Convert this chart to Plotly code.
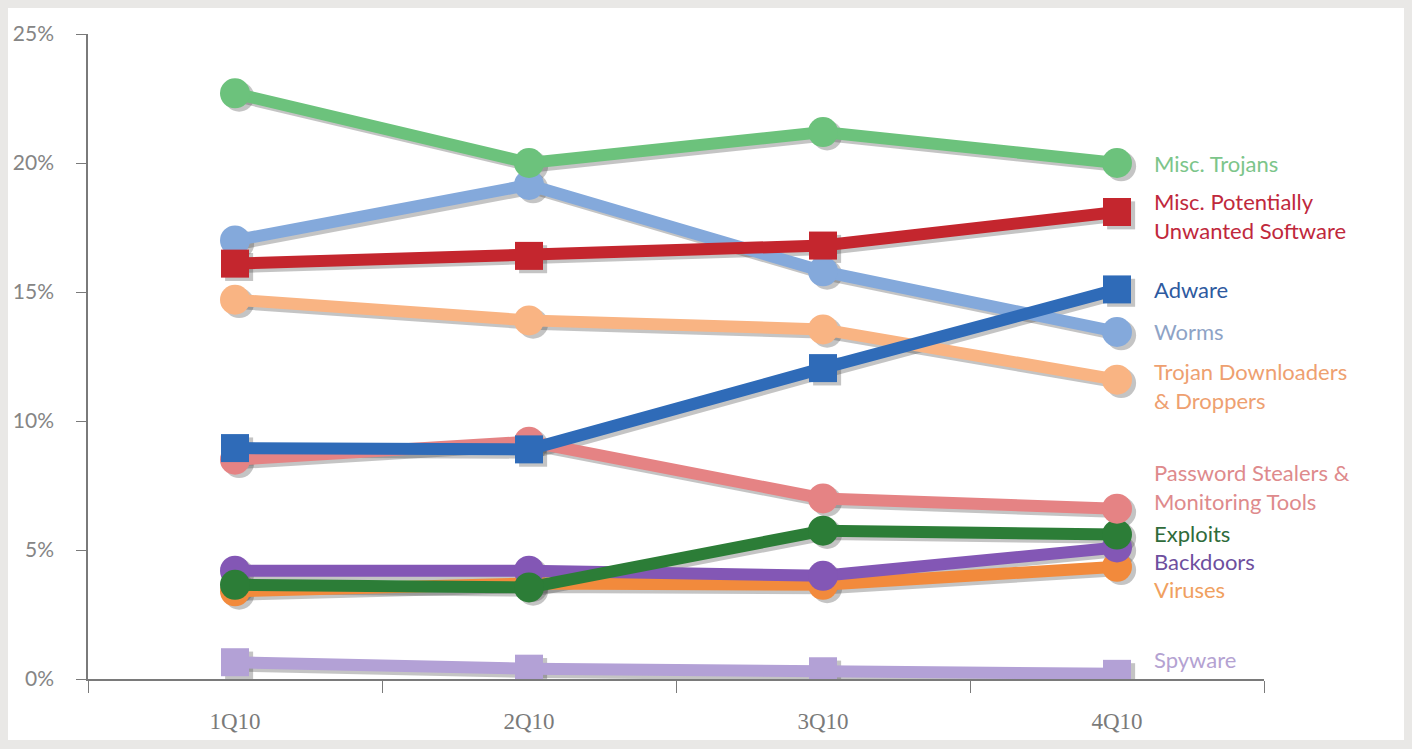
import plotly.graph_objects as go

# Quarterly prevalence of malware categories (% of all infections)
quarters = ["1Q10", "2Q10", "3Q10", "4Q10"]

misc_trojans = [22.7, 20.0, 21.2, 20.0]
misc_pus = [16.1, 16.4, 16.8, 18.1]
adware = [8.95, 8.9, 12.05, 15.1]
worms = [17.0, 19.15, 15.8, 13.45]
trojan_downloaders = [14.7, 13.9, 13.55, 11.6]
password_stealers = [8.5, 9.2, 7.0, 6.6]
exploits = [3.65, 3.55, 5.75, 5.6]
backdoors = [4.2, 4.2, 4.0, 5.1]
viruses = [3.4, 3.7, 3.65, 4.35]
spyware = [0.65, 0.4, 0.3, 0.2]

y_ticks = [0, 5, 10, 15, 20, 25]
y_tick_labels = [f"{v}%" for v in y_ticks]

# name, values, line colour, marker symbol, label text colour (bottom to top drawing order)
series = [
    ("Spyware", spyware, "#b3a1d6", "square", "#b4a2d2"),
    ("Viruses", viruses, "#f28a3c", "circle", "#f0a060"),
    ("Backdoors", backdoors, "#8357b5", "circle", "#6e4f9e"),
    ("Exploits", exploits, "#2c7d37", "circle", "#2f6b3a"),
    ("Password Stealers &<br>Monitoring Tools", password_stealers, "#e58384", "circle", "#de8a8c"),
    ("Trojan Downloaders<br>& Droppers", trojan_downloaders, "#f9b483", "circle", "#eea070"),
    ("Worms", worms, "#84a9db", "circle", "#8ea3c6"),
    ("Adware", adware, "#2f6bb8", "square", "#2e5a9f"),
    ("Misc. Potentially<br>Unwanted Software", misc_pus, "#c4262e", "square", "#c0283c"),
    ("Misc. Trojans", misc_trojans, "#6cc27c", "circle", "#7cc58a"),
]

# vertical anchor (in axis units) of each right-hand label
label_y = {
    "Misc. Trojans": 20.0,
    "Misc. Potentially<br>Unwanted Software": 17.95,
    "Adware": 15.1,
    "Worms": 13.45,
    "Trojan Downloaders<br>& Droppers": 11.35,
    "Password Stealers &<br>Monitoring Tools": 7.45,
    "Exploits": 5.65,
    "Backdoors": 4.55,
    "Viruses": 3.45,
    "Spyware": 0.75,
}

xpos = list(range(len(quarters)))

fig = go.Figure()

# soft drop shadows, drawn beneath every series
for name, vals, color, symbol, _ in series:
    fig.add_trace(go.Scatter(
        x=[x + 0.014 for x in xpos], y=[v - 0.13 for v in vals],
        mode="lines+markers",
        line=dict(color="rgba(70,70,70,0.32)", width=12),
        marker=dict(symbol=symbol, size=30 if symbol == "circle" else 28,
                    color="rgba(70,70,70,0.32)", line=dict(width=0)),
        hoverinfo="skip", showlegend=False,
    ))

for name, vals, color, symbol, _ in series:
    fig.add_trace(go.Scatter(
        x=xpos, y=vals, mode="lines+markers", name=name.replace("<br>", " "),
        line=dict(color=color, width=12),
        marker=dict(symbol=symbol, size=30 if symbol == "circle" else 28,
                    color=color, line=dict(width=0)),
        showlegend=False,
    ))

for name, vals, color, symbol, text_color in series:
    fig.add_annotation(
        x=0.905, xref="paper", xanchor="left",
        y=label_y[name], yref="y", yanchor="middle",
        text=name, showarrow=False, align="left",
        font=dict(family="Lato, Open Sans, sans-serif", size=22, color=text_color),
    )

# white card over the light grey page
fig.add_shape(type="rect", xref="paper", yref="paper",
              x0=-80 / 1176, x1=1316 / 1176, y0=-61 / 645, y1=671 / 645,
              fillcolor="white", line=dict(width=0), layer="below")

fig.update_layout(
    width=1412, height=749,
    margin=dict(l=88, r=148, t=34, b=70),
    paper_bgcolor="#e9e8e6",
    plot_bgcolor="rgba(0,0,0,0)",
    showlegend=False,
    xaxis=dict(
        range=[-0.5, 3.5], tickvals=xpos, ticktext=quarters,
        ticks="", showgrid=False, zeroline=False,
        showline=True, linecolor="#7a7a7a", linewidth=1.5,
        tickfont=dict(family="Liberation Serif, serif", size=23, color="#7a7a7a"),
        ticklabelstandoff=21,
        minor=dict(tickvals=[-0.5, 0.5, 1.5, 2.5, 3.5], ticks="outside",
                   ticklen=12, tickcolor="#7a7a7a", tickwidth=1.2, showgrid=False),
    ),
    yaxis=dict(
        range=[0, 25], tickvals=y_ticks, ticktext=y_tick_labels,
        ticks="outside", ticklen=10, tickcolor="#7a7a7a", tickwidth=1.2,
        showgrid=False, zeroline=False,
        showline=True, linecolor="#7a7a7a", linewidth=1.5,
        tickfont=dict(family="Lato, Open Sans, sans-serif", size=21, color="#858585"),
        ticklabelstandoff=18,
    ),
)

fig.write_html("out.html")
